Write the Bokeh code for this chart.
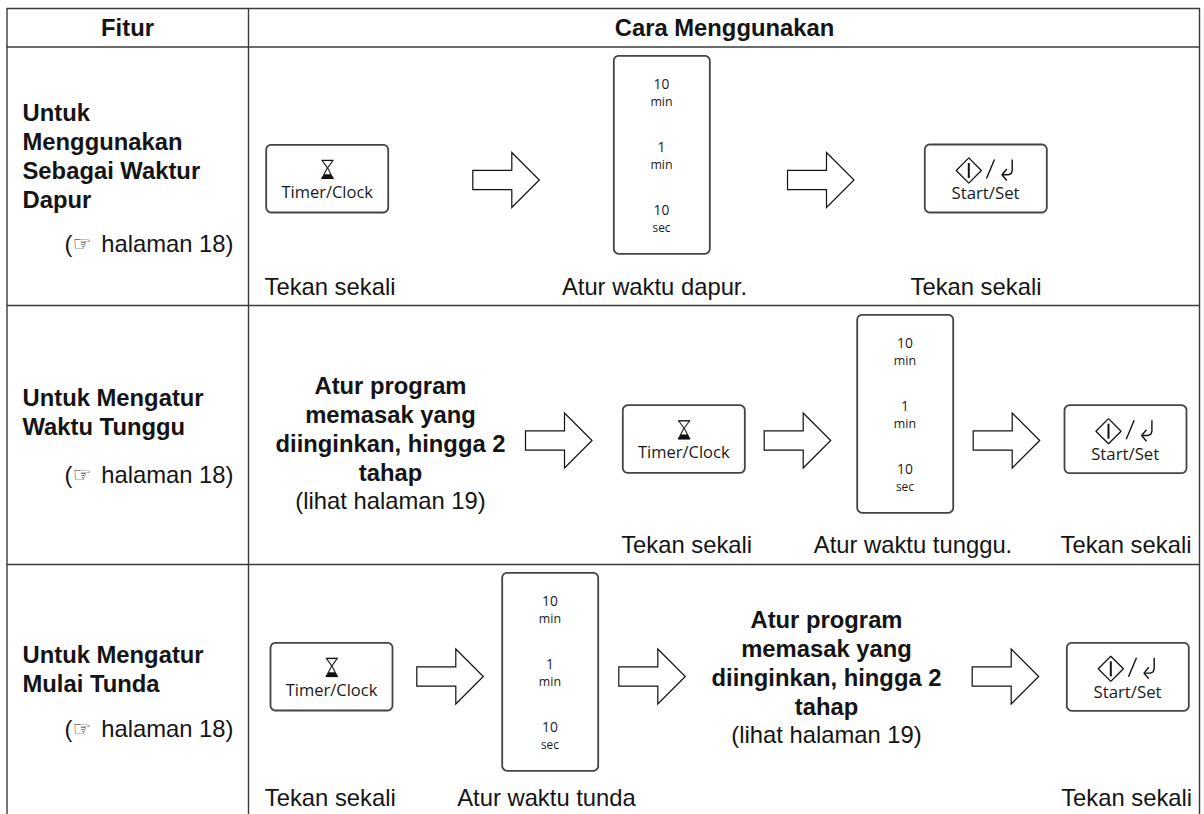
from bokeh.plotting import figure
from bokeh.models import Range1d
from bokeh.core.properties import value
from bokeh.embed import file_html
from bokeh.resources import INLINE
import math

# ---- table content -------------------------------------------------------
header_labels = ["Fitur", "Cara Menggunakan"]
feature_row1 = ["Untuk", "Menggunakan", "Sebagai Waktur", "Dapur"]
feature_row2 = ["Untuk Mengatur", "Waktu Tunggu"]
feature_row3 = ["Untuk Mengatur", "Mulai Tunda"]
page_ref = "halaman 18)"
hand_mark = "\u261e"
press_once = "Tekan sekali"
set_kitchen = "Atur waktu dapur."
set_stand = "Atur waktu tunggu."
set_delay = "Atur waktu tunda"
program_lines = ["Atur program", "memasak yang", "diinginkan, hingga 2", "tahap"]
program_note = "(lihat halaman 19)"
timer_label = "Timer/Clock"
start_label = "Start/Set"
panel_numbers = ["10", "1", "10"]
panel_units = ["min", "min", "sec"]

SANS = "Liberation Sans"
BTN = "Open Sans"
INK = "#141414"
RULE = "#3a3a3a"
BOX = "#444444"
BODY = 23.8

p = figure(width=1204, height=814, output_backend="svg", toolbar_location=None,
           x_range=Range1d(0, 1204), y_range=Range1d(814, 0),
           min_border=0, outline_line_color=None, background_fill_color="white",
           border_fill_color="white")
p.xaxis.visible = False
p.yaxis.visible = False
p.grid.visible = False


def txt(x, y, s, size=BODY, bold=False, font=SANS, align="left", color=INK):
    # y is the text's baseline; the page places this text about 0.35 em lower
    p.text([x], [y - 0.35 * size], text=[s], text_font=value(font), text_font_size=f"{size}px",
           text_font_style="bold" if bold else "normal", text_align=align,
           text_baseline="alphabetic", text_color=color)


def rrect(x0, y0, x1, y1, r=5.0):
    xs, ys = [], []
    corners = [(x1 - r, y0 + r, -90), (x1 - r, y1 - r, 0), (x0 + r, y1 - r, 90), (x0 + r, y0 + r, 180)]
    for cx, cy, a0 in corners:
        for k in range(7):
            a = math.radians(a0 + k * 15)
            xs.append(cx + r * math.cos(a))
            ys.append(cy + r * math.sin(a))
    p.patch(xs, ys, fill_color="white", line_color=BOX, line_width=1.8)


def arrow(x0, ty):
    w, hx = 66.5, 39
    xs = [x0, x0 + hx, x0 + hx, x0 + w, x0 + hx, x0 + hx, x0]
    ys = [ty - 9.7, ty - 9.7, ty - 27.5, ty, ty + 27.5, ty + 9.7, ty + 9.7]
    p.patch(xs, ys, fill_color="white", line_color="#111111", line_width=1.2, line_join="miter")


def timer(x, y):
    rrect(x, y, x + 122, y + 67.7)
    L, R = x + 55.3, x + 67.3
    T, B = y + 15.6, y + 33.6
    M = (L + R) / 2
    p.line([L, R], [T, T], line_color="#111111", line_width=1.4)
    p.line([L, R], [B, B], line_color="#111111", line_width=1.4)
    p.line([L + 0.5, M + 1, R - 0.5], [T, y + 24.6, B], line_color="#222222", line_width=1.1)
    p.line([R - 0.5, M - 1, L + 0.5], [T, y + 24.6, B], line_color="#222222", line_width=1.1)
    p.patch([L + 3, R - 3, R, L], [y + 29.6, y + 29.6, B, B], fill_color="#111111", line_color="#111111", line_width=0.5)
    txt(x + 61, y + 52.4, timer_label, size=16.5, font=BTN, align="center", color="#1a1a1a")


def start(x, y):
    rrect(x, y, x + 122, y + 68)
    cx, cy, h = x + 44, y + 26, 12.6
    p.patch([cx, cx + h, cx, cx - h], [cy - h, cy, cy + h, cy], fill_color="white", line_color="#111111", line_width=1.3)
    p.line([cx, cx], [cy - 7.5, cy + 7.5], line_color="#111111", line_width=2)
    p.line([x + 61.7, x + 69.7], [y + 34, y + 15], line_color="#111111", line_width=1.4)
    p.line([x + 87.4, x + 87.4, x + 86.4, x + 83.5, x + 77.4], [y + 15, y + 26, y + 29, y + 30.3, y + 30.3],
           line_color="#111111", line_width=1.4)
    p.line([x + 82, x + 77.2, x + 82], [y + 24.5, y + 30.3, y + 36], line_color="#111111", line_width=1.4)
    txt(x + 60.7, y + 54.3, start_label, size=16.8, font=BTN, align="center", color="#1a1a1a")


def panel(x, y):
    rrect(x, y, x + 96, y + 198)
    cx = x + 47.7
    for i in range(3):
        txt(cx, y + 33 + i * 62.85, panel_numbers[i], size=13.8, font=BTN, align="center", color="#1a1a1a")
        txt(cx, y + 49.7 + i * 62.85, panel_units[i], size=12.4 if panel_units[i] == "min" else 11.8,
            font=BTN, align="center", color="#1a1a1a")


def page_note(baseline):
    txt(64, baseline, "(")
    txt(72, baseline - 0.5, hand_mark, size=21, bold=True, font="DejaVu Sans")
    txt(233, baseline, page_ref, align="right")


def program(cx, baselines):
    for line, b in zip(program_lines, baselines[:4]):
        txt(cx, b, line, bold=True, align="center")
    txt(cx, baselines[4], program_note, align="center")


# ---- table rules ----------------------------------------------------------
for x in (6.5, 248, 1199):
    p.line([x, x], [8, 814], line_color=RULE, line_width=1.4)
for y in (8, 46.5, 305, 564):
    p.line([6, 1199.5], [y, y], line_color=RULE, line_width=1.4)

# ---- header ---------------------------------------------------------------
txt(127, 35.5, header_labels[0], bold=True, align="center")
txt(724, 35.5, header_labels[1], bold=True, align="center")

# ---- feature column -------------------------------------------------------
for line, b in zip(feature_row1, (120, 149, 178, 207)):
    txt(22, b, line, bold=True)
page_note(251)
for line, b in zip(feature_row2, (405, 434)):
    txt(22, b, line, bold=True)
page_note(482)
for line, b in zip(feature_row3, (662, 691)):
    txt(22, b, line, bold=True)
page_note(736)

# ---- row 1 ----------------------------------------------------------------
timer(265.7, 144.3)
arrow(472.3, 179.5)
panel(613.3, 55.3)
arrow(787, 179.5)
start(924.3, 144)
txt(264, 294, press_once)
txt(654, 294, set_kitchen, align="center")
txt(910, 294, press_once)

# ---- row 2 ----------------------------------------------------------------
program(390, (393, 422, 451, 480, 508))
arrow(525, 440)
timer(622.3, 404.7)
arrow(763.7, 440)
panel(856.7, 314.3)
arrow(972.7, 440)
start(1064, 404.7)
txt(620.7, 552, press_once)
txt(813.3, 552, set_stand)
txt(1060, 552, press_once)

# ---- row 3 ----------------------------------------------------------------
timer(270, 642.3)
arrow(416.3, 676)
panel(501.7, 572.3)
arrow(618.3, 676)
program(826, (627, 656, 685, 714, 742))
arrow(971.7, 676)
start(1066.3, 642.3)
txt(264.3, 805, press_once)
txt(456.7, 805, set_delay)
txt(1060.7, 805, press_once)

html = file_html(p, INLINE)
open("out.html", "w").write(html)
